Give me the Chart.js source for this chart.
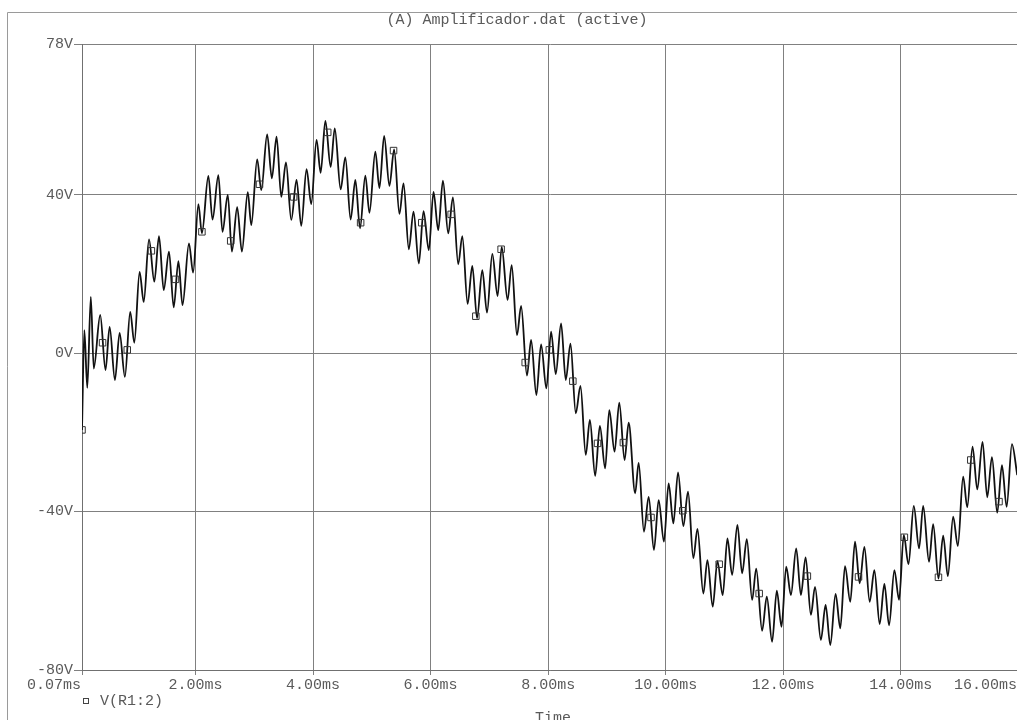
<!DOCTYPE html>
<html>
<head>
<meta charset="utf-8">
<script src="https://cdn.jsdelivr.net/npm/chart.js@4.4.1/dist/chart.umd.min.js"></script>
<style>
html, body { margin: 0; padding: 0; background: #fff; overflow: hidden; }
#wrap { position: absolute; left: 0; top: 0; width: 1024px; height: 720px; }
</style>
</head>
<body>
<div id="wrap"><canvas id="plot" width="1024" height="720"></canvas></div>
<script>
// Transient trace V(R1:2): successive peaks and troughs of the ripple (time in ms, volts)
const timeMs = [
  0.07,0.11,0.16,0.22,0.27,0.38,0.47,0.54,0.63,0.71,
  0.80,0.89,0.96,1.05,1.12,1.21,1.30,1.38,1.46,1.55,
  1.63,1.71,1.78,1.89,1.96,2.05,2.11,2.22,2.29,2.39,
  2.46,2.55,2.62,2.71,2.79,2.89,2.95,3.05,3.12,3.22,
  3.30,3.38,3.46,3.54,3.63,3.72,3.80,3.89,3.97,4.06,
  4.13,4.21,4.30,4.37,4.47,4.55,4.64,4.72,4.80,4.89,
  4.96,5.06,5.13,5.21,5.30,5.38,5.47,5.54,5.63,5.71,
  5.80,5.88,5.97,6.05,6.13,6.21,6.30,6.38,6.47,6.54,
  6.63,6.71,6.79,6.88,6.96,7.05,7.14,7.21,7.31,7.38,
  7.47,7.54,7.64,7.71,7.80,7.88,7.97,8.05,8.13,8.22,
  8.30,8.38,8.47,8.55,8.64,8.71,8.80,8.88,8.97,9.04,
  9.13,9.21,9.30,9.37,9.48,9.54,9.63,9.71,9.80,9.88,
  9.97,10.05,10.13,10.21,10.30,10.38,10.47,10.54,10.64,10.71,
  10.80,10.88,10.97,11.05,11.13,11.22,11.30,11.38,11.47,11.54,
  11.64,11.72,11.81,11.89,11.97,12.05,12.13,12.22,12.30,12.38,
  12.47,12.54,12.64,12.72,12.80,12.89,12.97,13.05,13.14,13.22,
  13.30,13.38,13.47,13.55,13.64,13.72,13.80,13.89,13.97,14.05,
  14.13,14.22,14.31,14.38,14.48,14.55,14.64,14.72,14.80,14.89,
  14.97,15.06,15.13,15.22,15.30,15.39,15.47,15.55,15.64,15.72,
  15.80,15.89,15.98
];
const voltage = [
  -19.4,5.8,-8.8,14.2,-3.9,9.6,-4.3,6.6,-6.8,5.1,
  -6.0,10.4,2.6,20.5,12.9,28.7,18.0,29.5,15.9,25.6,
  11.5,23.2,12.1,27.7,20.3,37.6,30.2,44.7,33.7,44.9,
  30.6,39.9,25.6,36.8,25.6,40.6,32.3,48.9,41.1,55.2,
  44.1,54.6,39.4,48.1,33.6,43.7,32.1,46.4,37.6,53.8,
  45.5,58.6,47.0,56.7,41.3,49.4,33.7,43.7,31.5,44.8,
  35.4,50.8,41.6,54.8,42.2,51.4,35.1,42.8,26.2,35.7,
  22.6,35.8,26.0,40.7,31.0,43.5,30.2,39.3,22.4,29.5,
  12.4,22.0,8.8,20.9,10.2,25.0,14.4,26.8,13.4,22.2,
  4.5,11.9,-5.7,3.3,-10.6,2.2,-8.9,5.4,-5.3,7.5,
  -6.8,2.4,-15.2,-8.3,-25.7,-16.9,-31.0,-18.4,-29.1,-14.4,
  -24.9,-12.5,-27.0,-17.6,-35.4,-27.7,-45.1,-36.3,-49.7,-37.1,
  -47.6,-32.9,-43.0,-30.1,-43.7,-35.0,-51.8,-44.4,-60.7,-52.3,
  -64.0,-52.5,-61.1,-46.8,-56.0,-43.4,-55.6,-47.0,-62.3,-54.4,
  -70.1,-61.5,-72.9,-60.0,-69.1,-53.9,-61.1,-49.3,-61.1,-51.6,
  -66.1,-59.0,-72.4,-63.6,-73.7,-60.8,-69.5,-53.8,-62.8,-47.6,
  -58.1,-48.9,-62.8,-54.8,-68.4,-58.3,-68.7,-54.8,-62.3,-45.9,
  -53.3,-38.6,-49.3,-38.6,-52.7,-43.2,-56.9,-46.1,-56.3,-41.3,
  -48.7,-31.2,-38.9,-23.6,-34.4,-22.4,-36.4,-26.3,-40.3,-28.3,
  -38.8,-23.0,-30.8
];

// Trace symbol markers placed along V(R1:2)
const markerTimeMs = [0.07,0.42,0.84,1.25,1.66,2.11,2.60,3.09,3.67,4.25,4.81,5.37,5.85,6.35,6.77,7.20,
  7.61,8.02,8.42,8.84,9.28,9.75,10.29,10.91,11.59,12.41,13.28,14.06,14.64,15.19,15.67];
const markerVoltage = [-19.4,2.6,0.8,25.8,18.6,30.6,28.3,42.6,39.4,55.7,32.9,51.1,32.9,35.0,9.3,26.2,
  -2.4,0.8,-7.1,-22.8,-22.6,-41.5,-39.8,-53.3,-60.7,-56.3,-56.5,-46.5,-56.6,-27.0,-37.5];

const xTickValues = [0.07, 2, 4, 6, 8, 10, 12, 14, 16];
const yTickValues = [-80, -40, 0, 40, 78];
const traceName = 'V(R1:2)';
const plotTitle = '(A) Amplificador.dat (active)';
const xAxisTitle = 'Time';

const MONO = '"Liberation Mono", "Courier New", "DejaVu Sans Mono", monospace';
const TEXT_COLOR = '#5a5a5a';
const GRID_COLOR = '#808080';

function fmtMs(v) { return v.toFixed(2) + 'ms'; }

// Window frame, title, time labels and the trace legend
const probeDecor = {
  id: 'probeDecor',
  beforeDraw(chart) {
    const ctx = chart.ctx;
    ctx.save();
    ctx.fillStyle = '#fff';
    ctx.fillRect(0, 0, chart.width, chart.height);
    ctx.strokeStyle = '#9a9a9a';
    ctx.lineWidth = 1;
    ctx.beginPath();
    ctx.moveTo(7.5, chart.height + 5);
    ctx.lineTo(7.5, 12.5);
    ctx.lineTo(chart.width + 5, 12.5);
    ctx.stroke();
    ctx.restore();
  },
  afterDraw(chart) {
    const ctx = chart.ctx;
    const xs = chart.scales.x;
    const area = chart.chartArea;
    ctx.save();
    ctx.font = '15px ' + MONO;
    ctx.fillStyle = TEXT_COLOR;
    ctx.textBaseline = 'middle';
    const n = xs.ticks.length;
    xs.ticks.forEach((t, i) => {
      const px = xs.getPixelForValue(t.value);
      let x = px;
      ctx.textAlign = 'center';
      if (i === 0) { ctx.textAlign = 'right'; x = px - 1; }
      else if (i === n - 1) { ctx.textAlign = 'right'; x = Math.min(px, 1017); }
      ctx.fillText(fmtMs(t.value), x, area.bottom + 15);
    });
    ctx.textAlign = 'center';
    ctx.fillText(plotTitle, 517, 20);
    ctx.fillText(xAxisTitle, 553, 718);
    // legend entry
    ctx.strokeStyle = '#444';
    ctx.lineWidth = 1;
    ctx.strokeRect(83.5, 698.5, 5, 5);
    ctx.textAlign = 'left';
    ctx.fillText(traceName, 100, 701);
    ctx.restore();
  }
};

new Chart(document.getElementById('plot'), {
  type: 'line',
  data: {
    datasets: [
      {
        label: traceName + ' markers',
        data: markerTimeMs.map((t, i) => ({ x: t, y: markerVoltage[i] })),
        showLine: false,
        pointStyle: 'rect',
        pointRadius: 4.6,
        pointBorderWidth: 1,
        pointBorderColor: '#333',
        pointBackgroundColor: 'rgba(255,255,255,0)',
        order: 0
      },
      {
        label: traceName,
        data: timeMs.map((t, i) => ({ x: t, y: voltage[i] })),
        borderColor: '#111',
        borderWidth: 1.8,
        pointRadius: 0,
        cubicInterpolationMode: 'monotone',
        fill: false,
        order: 1
      }
    ]
  },
  options: {
    responsive: false,
    animation: false,
    events: [],
    layout: { padding: { top: 44, left: 1, right: 1, bottom: 0 } },
    plugins: { legend: { display: false }, tooltip: { enabled: false }, title: { display: false } },
    scales: {
      x: {
        type: 'linear',
        min: 0.07,
        max: 16,
        afterBuildTicks(scale) { scale.ticks = xTickValues.map(v => ({ value: v })); },
        afterFit(scale) { scale.height = 50; },
        ticks: { display: false },
        grid: { color: GRID_COLOR, lineWidth: 1, tickLength: 5, drawTicks: true },
        border: { color: '#707070', width: 1 }
      },
      y: {
        type: 'linear',
        min: -80,
        max: 78,
        afterBuildTicks(scale) { scale.ticks = yTickValues.map(v => ({ value: v })); },
        afterFit(scale) { scale.width = 81; },
        ticks: {
          callback: v => v + 'V',
          color: TEXT_COLOR,
          font: { family: MONO, size: 15 },
          padding: 1
        },
        grid: { color: GRID_COLOR, lineWidth: 1, tickLength: 8, drawTicks: true },
        border: { color: '#707070', width: 1 }
      }
    }
  },
  plugins: [probeDecor]
});
</script>
</body>
</html>
